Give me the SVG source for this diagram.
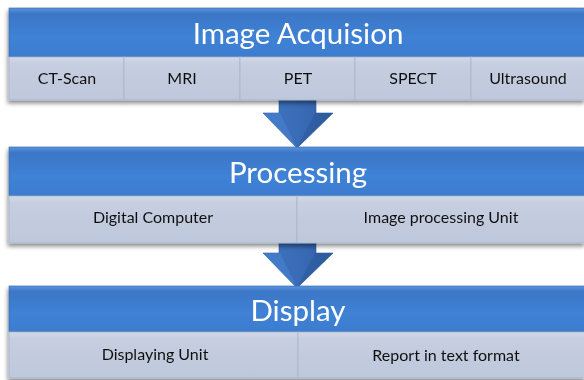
<svg xmlns="http://www.w3.org/2000/svg" width="584" height="380" viewBox="0 0 584 380">
<defs>
<linearGradient id="hdr" x1="0" y1="0" x2="0" y2="1">
<stop offset="0" stop-color="#5b93dc"/>
<stop offset="0.12" stop-color="#3c76c6"/>
<stop offset="0.6" stop-color="#3f82d6"/>
<stop offset="1" stop-color="#3b7ccf"/>
</linearGradient>
<linearGradient id="cell" x1="0" y1="0" x2="0" y2="1">
<stop offset="0" stop-color="#d2d9e8"/>
<stop offset="0.15" stop-color="#c6cee0"/>
<stop offset="1" stop-color="#bec8dc"/>
</linearGradient>
<linearGradient id="arr" x1="0" y1="0" x2="1" y2="0">
<stop offset="0" stop-color="#3d74c2"/>
<stop offset="0.5" stop-color="#3a6cb6"/>
<stop offset="1" stop-color="#2f5fa6"/>
</linearGradient>
<filter id="sh" x="-5%" y="-10%" width="110%" height="130%">
<feDropShadow dx="-1" dy="3" stdDeviation="2" flood-color="#000" flood-opacity="0.45"/>
</filter>
<g id="arrow">
<path d="M279 0 H316 V13 H333 L297 48 L263 13 H279 Z" fill="url(#arr)" stroke="#2e5c9e" stroke-width="0.6"/>
<path d="M297 48 L263 13 L280 13 Z" fill="#4a84d0" opacity="0.55"/>
<path d="M297 48 L333 13 L315 13 Z" fill="#2a5596" opacity="0.5"/>
</g>
</defs>
<style>
.hdr{fill:url(#hdr);stroke:#3468b0;stroke-width:0.6}
.cell{fill:url(#cell);stroke:#aab4c8;stroke-width:0.8}
.ht{font-family:Lato,"Open Sans","Liberation Sans",sans-serif;font-size:29.5px;fill:#fff;text-anchor:middle}
.ct{font-family:Lato,"Open Sans","Liberation Sans",sans-serif;font-size:16px;fill:#111;text-anchor:middle}
</style>
<rect width="584" height="380" fill="#fff"/>
<g id="connectors">
<use href="#arrow" y="100"/>
<use href="#arrow" y="240"/>
</g>
<g id="acquisition" filter="url(#sh)">
<rect class="hdr" x="9" y="8" width="576" height="49"/>
<text class="ht" x="298" y="44">Image Acquision</text>
<rect class="cell" x="9" y="57" width="115" height="43"/>
<rect class="cell" x="124" y="57" width="116" height="43"/>
<rect class="cell" x="240" y="57" width="115" height="43"/>
<rect class="cell" x="355" y="57" width="116" height="43"/>
<rect class="cell" x="471" y="57" width="114" height="43"/>
<text class="ct" x="67" y="84">CT-Scan</text>
<text class="ct" x="182" y="84">MRI</text>
<text class="ct" x="298" y="84">PET</text>
<text class="ct" x="413" y="84">SPECT</text>
<text class="ct" x="528" y="84">Ultrasound</text>
</g>
<g id="processing" filter="url(#sh)">
<rect class="hdr" x="9" y="147" width="576" height="49"/>
<text class="ht" x="298" y="183">Processing</text>
<rect class="cell" x="9" y="196" width="288" height="47"/>
<rect class="cell" x="297" y="196" width="288" height="47"/>
<text class="ct" x="153" y="223">Digital Computer</text>
<text class="ct" x="441" y="223">Image processing Unit</text>
</g>
<g id="display" filter="url(#sh)">
<rect class="hdr" x="9" y="286" width="576" height="46"/>
<text class="ht" x="298" y="321">Display</text>
<rect class="cell" x="9" y="332" width="289" height="46"/>
<rect class="cell" x="298" y="332" width="287" height="46"/>
<text class="ct" x="155" y="360">Displaying Unit</text>
<text class="ct" x="446" y="361">Report in text format</text>
</g>
</svg>
